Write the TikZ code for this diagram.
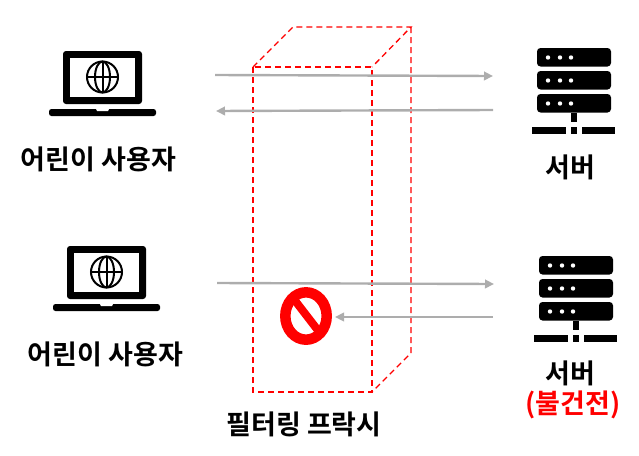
\documentclass[tikz,border=0pt]{standalone}
\usepackage{fontspec}
\setmainfont{Noto Sans CJK KR}[BoldFont={Noto Sans CJK KR Bold}]
\usetikzlibrary{arrows.meta}
\tikzset{
  lbl/.style={font=\bfseries\fontsize{27}{30}\selectfont,inner sep=0pt},
  flow/.style={draw=black!32,line width=2.4pt,-{Triangle[length=9pt,width=8.5pt]}},
  proxyline/.style={draw=red,dash pattern=on 6pt off 4pt,line width=1.3pt},
  laptopicon/.pic={
    \fill[rounded corners=3pt] (63,104) -- (63,51) -- (142,51) -- (142,104) -- cycle;
    \fill[white] (70,58) rectangle (135,97);
    \draw[line width=2pt] (102.5,77) circle (15.5);
    \draw[line width=2pt] (102.5,77) ellipse (7.5 and 15.5);
    \draw[line width=2pt] (87,77) -- (118,77);
    \draw[line width=2pt] (102.5,61.5) -- (102.5,92.5);
    \fill[rounded corners=2.5pt] (49,109) -- (156,109) -- (156,116) -- (49,116) -- cycle;
    \fill[white] (96,109) -- (109,109) -- (108,111) -- (97,111) -- cycle;
  },
  servericon/.pic={
    \foreach \y in {48,71,94}{
      \fill[rounded corners=3.5pt] (537,\y) rectangle (611,\y+18.5);
      \foreach \x in {548,560,571}
        \fill[white] (\x,\y+9.5) circle (2.2);
    }
    \fill (570.5,113) rectangle (577,122);
    \fill (532,127) rectangle (566,134);
    \fill (570.5,127) rectangle (577,134);
    \fill (582,127) rectangle (615,134);
  }
}
\begin{document}
\begin{tikzpicture}[x=1pt,y=-1pt]
  \useasboundingbox (0,0) rectangle (639,455);
  % proxy box
  \draw[proxyline] (253,67) rectangle (372,392);
  \draw[proxyline] (253,67) -- (293,27) -- (411,27) -- (372,67);
  \draw[proxyline] (411,27) -- (411,353) -- (372,392);
  % icons
  \pic at (0,0) {laptopicon};
  \pic at (4,195) {laptopicon};
  \pic at (0,0) {servericon};
  \pic at (2,208) {servericon};
  % blocked mark
  \draw[red,line width=10.5pt] (306,316) ellipse (20.7 and 23.7);
  \draw[red,line width=8pt] (293,298) -- (320,333);
  % connectors
  \coordinate (c1a) at (215,75);
  \coordinate (c1b) at (493,76);
  \coordinate (c2a) at (493,110);
  \coordinate (c2b) at (216,111);
  \coordinate (c3a) at (217,283);
  \coordinate (c3b) at (494,284);
  \coordinate (c4a) at (493,317);
  \coordinate (c4b) at (335,317);
  \draw[flow] (c1a) -- (c1b);
  \draw[flow] (c2a) -- (c2b);
  \draw[flow] (c3a) -- (c3b);
  \draw[flow] (c4a) -- (c4b);
  % labels
  \node[lbl] (child1) at (98.5,159.5) {어린이 사용자};
  \node[lbl] (child2) at (105.5,354.5) {어린이 사용자};
  \node[lbl] (server1) at (570,167.5) {서버};
  \node[lbl] (server2) at (570,373) {서버};
  \node[lbl,text=red] (bad) at (573,405) {(불건전)};
  \node[lbl] (proxy) at (304,424) {필터링 프락시};
\end{tikzpicture}
\end{document}
